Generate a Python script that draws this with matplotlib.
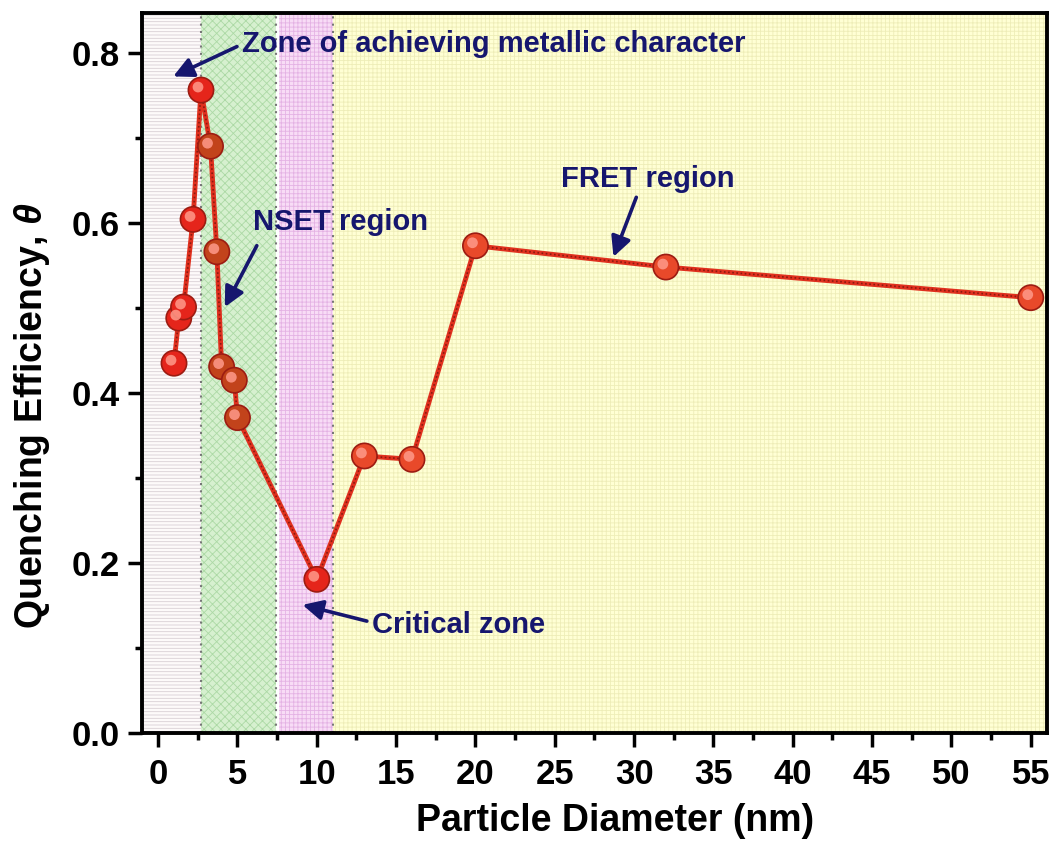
import numpy as np
import matplotlib.pyplot as plt
from matplotlib.transforms import ScaledTranslation

plt.rcParams['font.family'] = ['Liberation Sans', 'DejaVu Sans']
plt.rcParams['font.weight'] = 'bold'
plt.rcParams['hatch.linewidth'] = 0.6
plt.rcParams['mathtext.fontset'] = 'custom'
plt.rcParams['mathtext.it'] = 'Liberation Sans:italic'
plt.rcParams['mathtext.rm'] = 'Liberation Sans'

# data
diameter = [1.0, 1.3, 1.6, 2.2, 2.7, 3.3, 3.7, 4.0, 4.8, 5.0, 10, 13, 16, 20, 32, 55]
efficiency = [0.435, 0.488, 0.501, 0.604, 0.756, 0.690, 0.566, 0.431, 0.415, 0.371,
              0.181, 0.326, 0.322, 0.573, 0.548, 0.512]
point_colors = ['#e5251b'] * 5 + ['#c2431b'] * 5 + ['#e5251b'] + ['#e8492a'] * 5

# shaded zones: (start, end, face, hatch colour, hatch)
zones = [
    (-1.0, 2.7, '#fdfafa', '#d9cfd4', '-----'),
    (2.7, 7.4, '#d6f0cf', '#acd9a5', 'xxxx'),
    (7.6, 11.0, '#f8dcf6', '#e4b2e4', '++++'),
    (11.0, 56.0, '#ffffd4', '#eeedb8', '++++'),
]
zone_edges = [2.7, 7.45, 11.0]

xticks = [0, 5, 10, 15, 20, 25, 30, 35, 40, 45, 50, 55]
yticks = [0.0, 0.2, 0.4, 0.6, 0.8]

navy = '#16166e'

fig = plt.figure(figsize=(10.54, 8.41), dpi=100)
ax = fig.add_axes([0.135, 0.128, 0.858, 0.857])

for x0, x1, fc, hc, h in zones:
    ax.axvspan(x0, x1, facecolor=fc, edgecolor=hc, hatch=h, lw=0, zorder=0)
for xe in zone_edges:
    ax.axvline(xe, color='#777777', ls=(0, (1, 2.5)), lw=1.5, zorder=1)

# connecting line: thick red with dotted dark texture
ax.plot(diameter, efficiency, color='#e0301e', lw=3.5, zorder=2)
ax.plot(diameter, efficiency, color='#8a1a10', lw=1.2, ls=(0, (1, 1.5)), zorder=3)

# sphere-like markers
ax.scatter(diameter, efficiency, s=330, c=point_colors, edgecolors='#9c1c12',
           linewidths=1.2, zorder=4)
hl = ax.transData + ScaledTranslation(-3 / 100, 3 / 100, fig.dpi_scale_trans)
ax.scatter(diameter, efficiency, s=60, c='#ff9a8a', edgecolors='none',
           alpha=0.85, zorder=5, transform=hl)

ax.set_xlim(-1, 56)
ax.set_ylim(0, 0.847)
ax.set_xticks(xticks)
ax.set_yticks(yticks)
ax.set_yticklabels([f'{v:.1f}' for v in yticks])
ax.set_xticks(np.arange(2.5, 56, 5), minor=True)
ax.set_yticks([0.1, 0.3, 0.5, 0.7], minor=True)
ax.tick_params(which='major', direction='out', length=10, width=2.5, labelsize=25)
ax.tick_params(axis='x', which='major', pad=8)
ax.tick_params(axis='y', which='major', pad=6)
ax.tick_params(which='minor', direction='out', length=5, width=2.5)
for s in ax.spines.values():
    s.set_linewidth(2.8)
    s.set_zorder(6)

ax.set_xlabel('Particle Diameter (nm)', fontsize=27, fontweight='bold')
ax.set_ylabel(r'Quenching Efficiency, $\theta$', fontsize=27, fontweight='bold')
ax.xaxis.set_label_coords(0.523, -0.097)
ax.yaxis.set_label_coords(-0.1, 0.44)

arrow = dict(arrowstyle='-|>,head_length=0.6,head_width=0.3', color=navy, lw=2.6,
             mutation_scale=20, shrinkA=2, shrinkB=0)
ax.annotate('Zone of achieving metallic character', xy=(0.95, 0.772), xytext=(5.3, 0.810),
            fontsize=21, color=navy, fontweight='bold', va='center', ha='left',
            arrowprops=dict(arrow, relpos=(0, 0.5)), zorder=7)
ax.annotate('', xy=(4.2, 0.501), xytext=(6.3, 0.576), arrowprops=arrow, zorder=7)
ax.text(6.0, 0.601, 'NSET region', fontsize=21, color=navy, fontweight='bold',
        va='center', ha='left', zorder=7)
ax.annotate('', xy=(28.7, 0.560), xytext=(30.2, 0.633), arrowprops=arrow, zorder=7)
ax.text(25.4, 0.651, 'FRET region', fontsize=21, color=navy, fontweight='bold',
        va='center', ha='left', zorder=7)
ax.annotate('Critical zone', xy=(9.1, 0.151), xytext=(13.5, 0.127),
            fontsize=21, color=navy, fontweight='bold', va='center', ha='left',
            arrowprops=dict(arrow, relpos=(0, 0.6)), zorder=7)

fig.savefig('out.png', dpi=100)
